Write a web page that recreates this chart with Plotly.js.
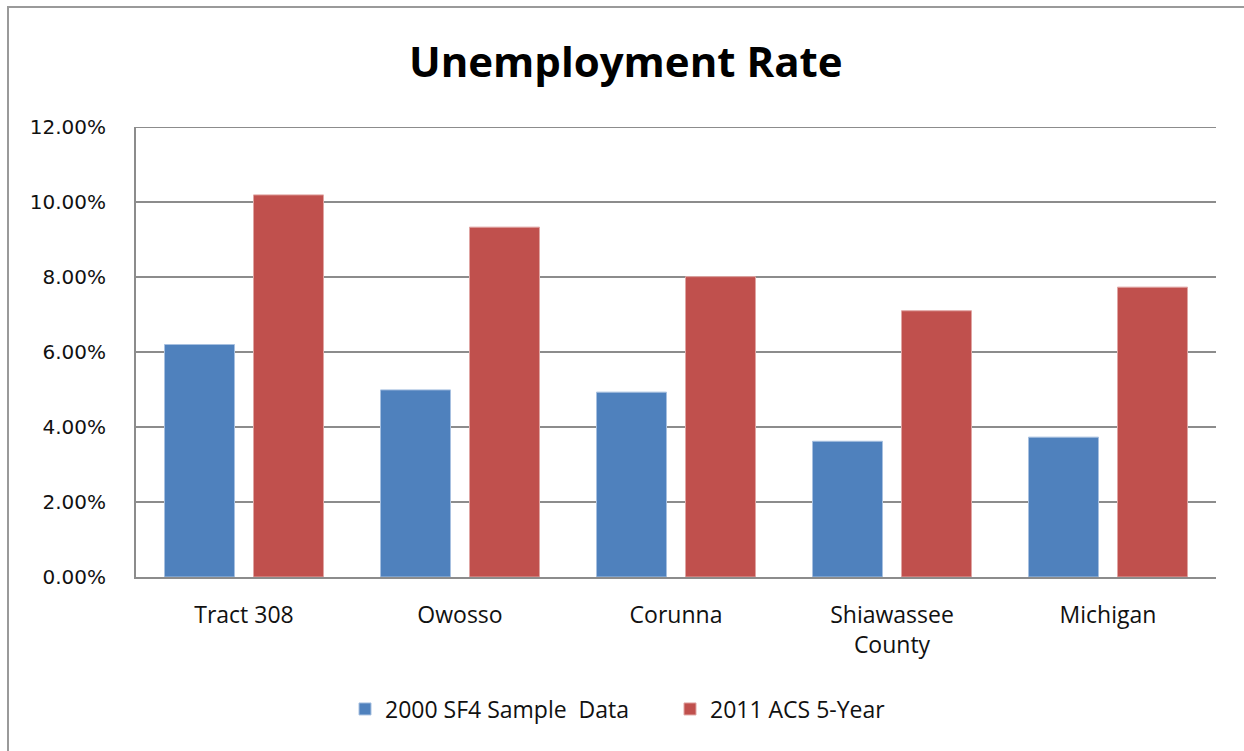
<!DOCTYPE html>
<html>
<head>
<meta charset="utf-8">
<script src="https://cdn.plot.ly/plotly-3.0.1.min.js"></script>
<style>html,body{margin:0;padding:0;background:#fff;}#chart{width:1244px;height:751px;}</style>
</head>
<body>
<div id="chart"></div>
<script>
const categories = ["Tract 308", "Owosso", "Corunna", "Shiawassee<br>County", "Michigan"];
const series2000 = [0.062, 0.0499, 0.0493, 0.0362, 0.0373];
const series2011 = [0.1019, 0.0933, 0.0801, 0.0710, 0.0773];
const seriesNames = ["2000 SF4 Sample  Data", "2011 ACS 5-Year"];
const yTicks = [0, 0.02, 0.04, 0.06, 0.08, 0.10, 0.12];

const W = 1244, H = 751, L = 136, R = 28, T = 127, B = 174;
const pw = W - L - R, ph = H - T - B;
const px = x => (x - L) / pw;
const py = y => (H - B - y) / ph;

const sans = "Open Sans, Noto Sans, sans-serif";

const traces = [
  {type: "bar", name: seriesNames[0], x: categories, y: series2000,
   marker: {color: "#4f81bd", line: {color: "#a7c0e0", width: 1}}},
  {type: "bar", name: seriesNames[1], x: categories, y: series2011,
   marker: {color: "#c0504d", line: {color: "#e0a5a3", width: 1}}}
];

const layout = {
  width: W, height: H,
  margin: {l: L, r: R, t: T, b: B},
  paper_bgcolor: "#fff", plot_bgcolor: "#fff",
  barmode: "group", bargap: 0.176, bargroupgap: 0.2135,
  title: {text: "<b>Unemployment Rate</b>", x: 0.503, xanchor: "center", y: 1 - 62 / H, yanchor: "middle",
          font: {family: sans, size: 42, color: "#000"}},
  xaxis: {
    showgrid: false, showline: true, linecolor: "#8c8c8c", linewidth: 2,
    ticks: "", tickfont: {family: sans, size: 23, color: "#111"},
    ticklabelstandoff: 16, fixedrange: true
  },
  yaxis: {
    range: [0, 0.12], tickvals: yTicks, tickformat: ".2%",
    showgrid: true, gridcolor: "#8c8c8c", gridwidth: 2,
    showline: true, linecolor: "#8c8c8c", linewidth: 2,
    zeroline: false, ticks: "",
    tickfont: {family: "DejaVu Sans, Verdana, sans-serif", size: 20, color: "#111"},
    ticklabelstandoff: 24, fixedrange: true
  },
  legend: {orientation: "h", x: px(345), xanchor: "left", y: py(709), yanchor: "middle",
           font: {family: sans, size: 23, color: "#111"}, itemwidth: 30, traceorder: "normal",
           entrywidth: 280, entrywidthmode: "pixels"},
  shapes: [
    {type: "rect", xref: "paper", yref: "paper", x0: px(8), x1: px(1260), y0: py(7), y1: py(770),
     line: {color: "#9a9a9a", width: 2}, fillcolor: "rgba(0,0,0,0)", layer: "below"},
    {type: "line", xref: "paper", yref: "y", x0: 0, x1: 1, y0: yTicks[yTicks.length - 1], y1: yTicks[yTicks.length - 1],
     line: {color: "#8c8c8c", width: 2}, layer: "below"}
  ],
  showlegend: true
};

Plotly.newPlot("chart", traces, layout, {displayModeBar: false, staticPlot: true});
</script>
</body>
</html>
